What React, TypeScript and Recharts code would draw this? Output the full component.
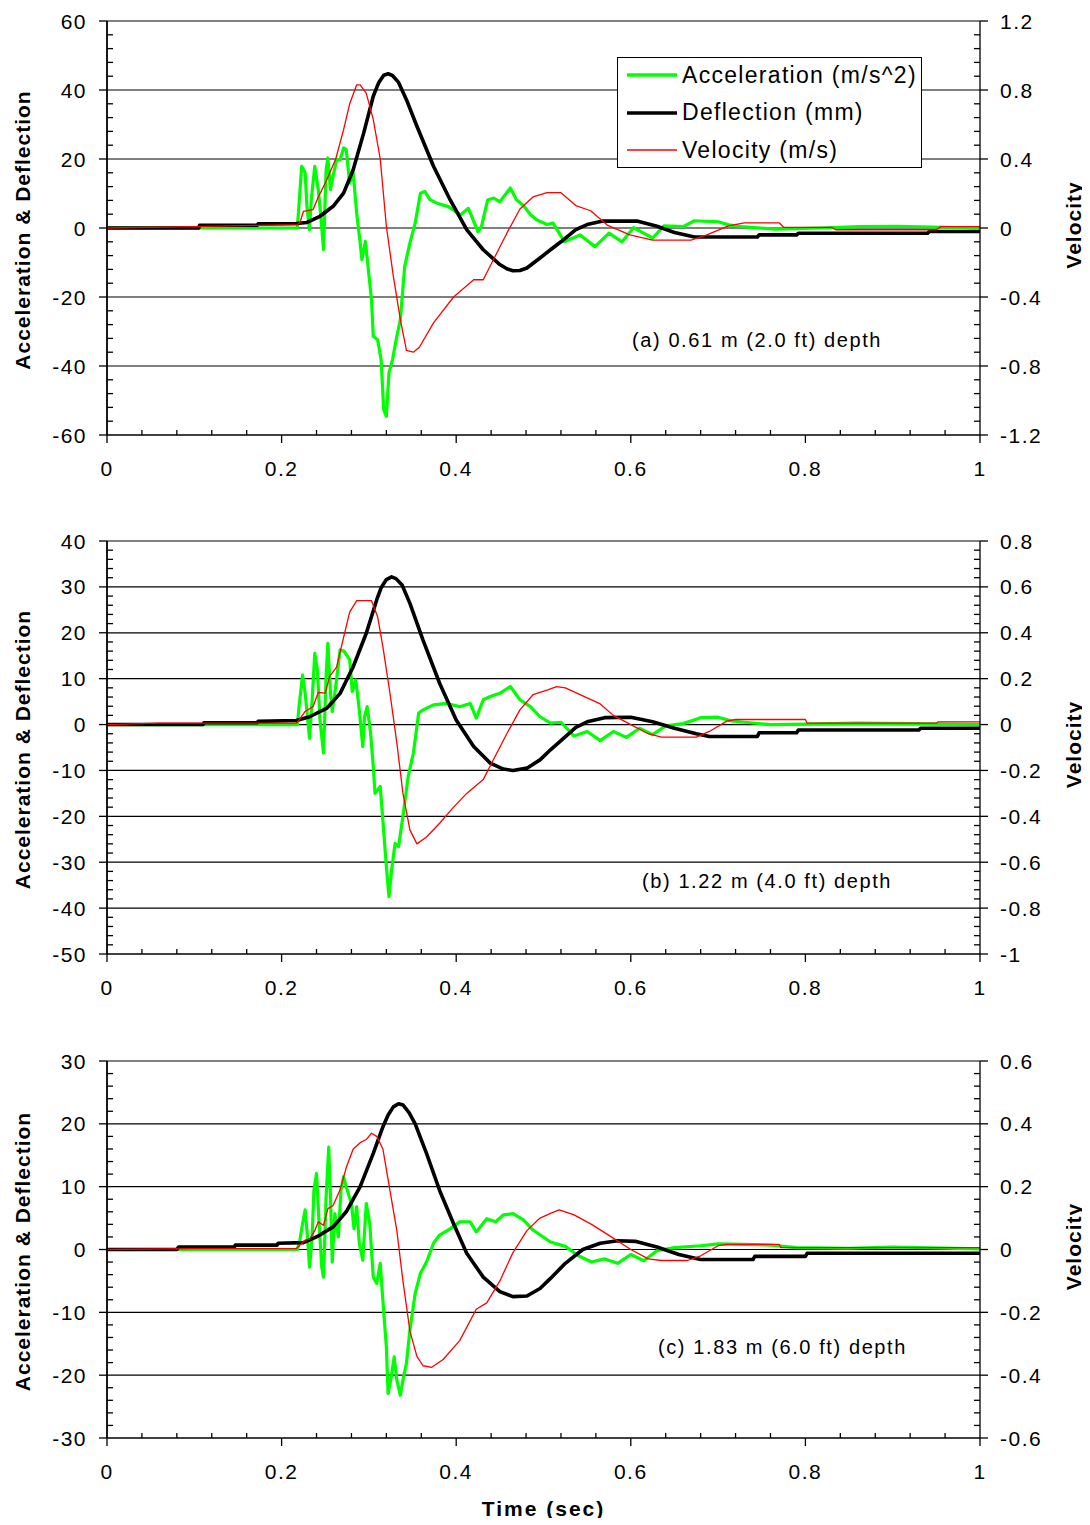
import React from 'react';
import { LineChart, Line, XAxis, YAxis, ReferenceLine, Legend } from 'recharts';

const FONT = '"Liberation Sans", Arial, Helvetica, sans-serif';

// ---------- (a) 0.61 m (2.0 ft) depth ----------
const accTimeA = [0, 0.218, 0.219, 0.223, 0.227, 0.229, 0.232, 0.234, 0.238, 0.242, 0.245, 0.248, 0.251, 0.253, 0.256, 0.259, 0.263, 0.267, 0.271, 0.274, 0.278, 0.282, 0.286, 0.29, 0.292, 0.296, 0.299, 0.303, 0.305, 0.31, 0.314, 0.317, 0.32, 0.323, 0.327, 0.332, 0.336, 0.341, 0.347, 0.353, 0.359, 0.364, 0.37, 0.378, 0.391, 0.405, 0.414, 0.425, 0.429, 0.436, 0.443, 0.45, 0.462, 0.469, 0.477, 0.485, 0.492, 0.504, 0.511, 0.524, 0.542, 0.559, 0.575, 0.59, 0.603, 0.625, 0.638, 0.66, 0.673, 0.7, 0.712, 0.73, 0.765, 0.818, 0.861, 0.905, 1];
const accA = [0, 0, 3.4, 17.9, 16, 6.3, -0.5, 8.2, 17.9, 11.1, 3.4, -6.3, 16.9, 20.3, 11.1, 15, 19.8, 19.8, 23.2, 22.7, 13, 16, 4.3, -4.3, -9.2, -3.9, -11.1, -20.8, -31.4, -32.4, -38.2, -52.7, -54.6, -42, -38.2, -31.4, -26.6, -11.1, -4.3, 1.4, 10.1, 10.6, 8.2, 7.2, 6.2, 3.8, 5.7, -1.1, 0.5, 8.1, 8.7, 7.6, 11.6, 8.2, 6.5, 3.9, 2.4, 1, 1.4, -4, -2, -5.4, -1.5, -4, 0.1, -2.9, 0.6, 0.4, 2.1, 1.8, 0.9, 0.3, -0.3, 0, 0.4, 0.5, 0];

const deflTimeA = [0, 0.105, 0.106, 0.172, 0.173, 0.217, 0.229, 0.244, 0.259, 0.271, 0.282, 0.294, 0.305, 0.311, 0.317, 0.322, 0.327, 0.334, 0.343, 0.355, 0.374, 0.393, 0.412, 0.431, 0.45, 0.458, 0.465, 0.473, 0.481, 0.496, 0.508, 0.52, 0.537, 0.55, 0.568, 0.607, 0.63, 0.65, 0.673, 0.745, 0.747, 0.79, 0.792, 0.94, 0.942, 1];
const deflA = [0, 0, 0.8, 0.8, 1.2, 1.3, 1.6, 3.4, 6.3, 10.1, 16.9, 27.5, 38.2, 42, 44.3, 44.7, 44.2, 42.2, 37.2, 29.5, 17.9, 8.2, -0.5, -6.3, -10.6, -11.8, -12.4, -12.3, -11.6, -8.7, -6.3, -4, -0.5, 1, 2, 2, 0.5, -1.3, -2.6, -2.6, -2, -2, -1.5, -1.5, -1, -1];

const velTimeA = [0, 0.07, 0.17, 0.218, 0.221, 0.225, 0.236, 0.242, 0.25, 0.262, 0.271, 0.278, 0.286, 0.29, 0.297, 0.305, 0.313, 0.32, 0.328, 0.336, 0.343, 0.351, 0.358, 0.374, 0.397, 0.42, 0.431, 0.443, 0.458, 0.473, 0.488, 0.504, 0.52, 0.537, 0.554, 0.573, 0.599, 0.625, 0.669, 0.687, 0.712, 0.73, 0.77, 0.775, 0.83, 0.835, 0.95, 0.955, 1];
const velA = [0, 0.005, 0.015, 0.02, 0.03, 0.097, 0.106, 0.18, 0.26, 0.4, 0.57, 0.72, 0.83, 0.83, 0.78, 0.63, 0.4, 0.01, -0.28, -0.53, -0.71, -0.72, -0.69, -0.55, -0.4, -0.3, -0.3, -0.18, -0.03, 0.11, 0.18, 0.205, 0.205, 0.13, 0.1, 0.017, -0.04, -0.07, -0.07, -0.04, 0.012, 0.03, 0.03, 0.004, 0.004, -0.01, -0.01, 0.008, 0.008];

// ---------- (b) 1.22 m (4.0 ft) depth ----------
const accTimeB = [0, 0.218, 0.22, 0.224, 0.227, 0.23, 0.232, 0.235, 0.238, 0.241, 0.244, 0.248, 0.251, 0.253, 0.256, 0.258, 0.262, 0.267, 0.272, 0.278, 0.281, 0.285, 0.289, 0.293, 0.295, 0.298, 0.302, 0.305, 0.307, 0.313, 0.316, 0.32, 0.323, 0.326, 0.33, 0.334, 0.339, 0.345, 0.351, 0.357, 0.362, 0.374, 0.389, 0.404, 0.416, 0.423, 0.431, 0.439, 0.45, 0.462, 0.473, 0.485, 0.496, 0.508, 0.52, 0.535, 0.55, 0.565, 0.58, 0.595, 0.61, 0.625, 0.64, 0.66, 0.68, 0.7, 0.715, 0.73, 0.76, 0.8, 0.86, 0.92, 1];
const accB = [0, 0, 3.9, 10.8, 6.8, 1, -3, 5.4, 15.5, 11.9, 1, -6.2, 10.5, 17.7, 6.8, 2.8, 8.3, 16.3, 15.9, 14.1, 7.2, 9.7, 3.2, -4.8, 1.7, 3.9, -1.9, -9.2, -15, -13.5, -20.8, -30.9, -37.5, -31.7, -25.9, -26.6, -20, -11.3, -6.2, 2.5, 3.2, 4.3, 4.6, 3.9, 4.6, 1.4, 5.4, 6.1, 6.8, 8.3, 5.4, 3.9, 1.7, 0.3, 0.5, -2.5, -1.5, -3.5, -1.5, -2.8, -0.8, -2.2, -0.3, 0.2, 1.5, 1.6, 0.8, 0.5, 0, 0.1, 0.3, 0.2, 0];

const deflTimeB = [0, 0.11, 0.111, 0.172, 0.173, 0.217, 0.232, 0.252, 0.267, 0.282, 0.297, 0.309, 0.314, 0.32, 0.326, 0.331, 0.338, 0.347, 0.362, 0.381, 0.4, 0.42, 0.439, 0.454, 0.465, 0.481, 0.496, 0.508, 0.52, 0.537, 0.55, 0.57, 0.6, 0.625, 0.65, 0.675, 0.69, 0.745, 0.747, 0.79, 0.792, 0.93, 0.932, 1];
const deflB = [0, 0, 0.4, 0.4, 0.7, 0.9, 1.7, 3.6, 6.8, 12.6, 19.9, 27.2, 29.8, 31.6, 32.2, 31.8, 30.4, 26.4, 18.4, 9, 1, -4.8, -8.4, -9.7, -10, -9.5, -7.7, -5.5, -3.5, -0.6, 0.6, 1.5, 1.6, 0.6, -0.8, -2, -2.6, -2.6, -1.8, -1.8, -1.2, -1.2, -0.8, -0.8];

const velTimeB = [0, 0.06, 0.217, 0.22, 0.227, 0.236, 0.242, 0.25, 0.255, 0.263, 0.271, 0.278, 0.286, 0.297, 0.303, 0.31, 0.316, 0.324, 0.332, 0.339, 0.347, 0.355, 0.366, 0.381, 0.397, 0.412, 0.431, 0.443, 0.458, 0.473, 0.488, 0.504, 0.515, 0.525, 0.545, 0.565, 0.58, 0.6, 0.62, 0.635, 0.675, 0.69, 0.71, 0.72, 0.8, 0.802, 0.95, 0.952, 1];
const velB = [0, 0.006, 0.006, 0.02, 0.057, 0.078, 0.14, 0.137, 0.21, 0.25, 0.38, 0.49, 0.54, 0.54, 0.54, 0.47, 0.34, 0.14, -0.08, -0.3, -0.46, -0.52, -0.49, -0.43, -0.36, -0.3, -0.24, -0.15, -0.04, 0.064, 0.13, 0.15, 0.165, 0.16, 0.125, 0.09, 0.04, 0, -0.04, -0.055, -0.055, -0.03, 0.015, 0.022, 0.022, 0.006, 0.006, 0.012, 0.012];

// ---------- (c) 1.83 m (6.0 ft) depth ----------
const accTimeC = [0, 0.218, 0.221, 0.224, 0.227, 0.23, 0.232, 0.235, 0.237, 0.24, 0.243, 0.246, 0.248, 0.251, 0.254, 0.256, 0.258, 0.261, 0.265, 0.268, 0.271, 0.274, 0.28, 0.283, 0.286, 0.289, 0.293, 0.297, 0.301, 0.305, 0.309, 0.313, 0.316, 0.32, 0.322, 0.325, 0.329, 0.332, 0.336, 0.339, 0.343, 0.347, 0.353, 0.359, 0.366, 0.374, 0.381, 0.393, 0.404, 0.416, 0.423, 0.435, 0.445, 0.454, 0.465, 0.477, 0.488, 0.508, 0.525, 0.54, 0.555, 0.57, 0.585, 0.6, 0.615, 0.63, 0.65, 0.68, 0.7, 0.73, 0.76, 0.79, 0.85, 0.9, 1];
const accC = [0, 0, 1.5, 4.1, 6.3, 1.5, -2.8, 2, 9.4, 12.1, 4.1, -2.8, -4.4, 8.4, 16.3, 8.4, -2, 5.7, 2, 9.4, 11.6, 10, 7.3, 3.3, 6.8, 1, -1.7, 7.3, 4.1, -4.4, -5.4, -2.2, -8.1, -15.5, -22.9, -20.8, -17.1, -20.8, -23.2, -20.8, -18.1, -12.8, -7, -3.8, -2, 1, 2.3, 3.3, 4.4, 4.4, 2.8, 4.9, 4.4, 5.5, 5.7, 4.7, 3.1, 1.2, 0.5, -1, -2, -1.5, -2.2, -0.8, -1.8, -0.2, 0.3, 0.6, 0.9, 0.8, 0.7, 0.3, 0.2, 0.4, 0.1];

const deflTimeC = [0, 0.08, 0.082, 0.146, 0.147, 0.195, 0.196, 0.225, 0.24, 0.259, 0.274, 0.29, 0.305, 0.316, 0.322, 0.328, 0.334, 0.339, 0.346, 0.353, 0.366, 0.381, 0.397, 0.412, 0.431, 0.45, 0.465, 0.481, 0.496, 0.508, 0.525, 0.545, 0.565, 0.585, 0.605, 0.63, 0.655, 0.68, 0.74, 0.742, 0.8, 0.802, 1];
const deflC = [0, 0, 0.4, 0.4, 0.7, 0.7, 1, 1.1, 2, 3.6, 6, 10, 15.3, 19.5, 21.4, 22.7, 23.2, 23, 21.8, 20, 15.3, 9.4, 4.1, -0.6, -4.4, -6.7, -7.5, -7.4, -6.2, -4.6, -2.2, 0, 1, 1.4, 1.3, 0.4, -0.8, -1.6, -1.6, -1.1, -1.1, -0.6, -0.6];

const velTimeC = [0, 0.1, 0.217, 0.221, 0.227, 0.232, 0.238, 0.242, 0.248, 0.253, 0.259, 0.267, 0.274, 0.282, 0.29, 0.297, 0.303, 0.309, 0.316, 0.324, 0.332, 0.339, 0.347, 0.355, 0.362, 0.372, 0.385, 0.404, 0.423, 0.435, 0.45, 0.465, 0.481, 0.496, 0.508, 0.518, 0.535, 0.555, 0.575, 0.6, 0.62, 0.635, 0.665, 0.68, 0.7, 0.71, 0.77, 0.772, 1];
const velC = [0, 0.003, 0.003, 0.014, 0.03, 0.032, 0.06, 0.088, 0.077, 0.13, 0.14, 0.19, 0.26, 0.32, 0.34, 0.35, 0.37, 0.36, 0.32, 0.19, 0.06, -0.1, -0.26, -0.34, -0.37, -0.375, -0.35, -0.29, -0.19, -0.17, -0.1, -0.01, 0.06, 0.1, 0.115, 0.126, 0.11, 0.08, 0.045, 0, -0.03, -0.035, -0.035, -0.02, 0.012, 0.016, 0.016, 0.006, 0.006];

// Axis setup per panel: [min, max, major step, minor step]
const leftAxisA = [-60, 60, 20, 4];
const rightAxisA = [-1.2, 1.2, 0.4, 0.08];
const leftAxisB = [-50, 40, 10, 2];
const rightAxisB = [-1, 0.8, 0.2, 0.04];
const leftAxisC = [-30, 30, 10, 2];
const rightAxisC = [-0.6, 0.6, 0.2, 0.04];
const timeAxis = [0, 1, 0.2, 0.04];

const captions = ['(a) 0.61 m (2.0 ft) depth', '(b) 1.22 m (4.0 ft) depth', '(c) 1.83 m (6.0 ft) depth'];
const seriesNames = ['Acceleration (m/s^2)', 'Deflection (mm)', 'Velocity (m/s)'];

const ACC_COLOR = '#00ff00';
const DEFL_COLOR = '#000000';
const VEL_COLOR = '#ff0000';

type Pt = { t: number; v: number };
const zip = (ts: number[], vs: number[]): Pt[] => ts.map((t, i) => ({ t, v: vs[i] }));

const tickList = (min: number, max: number, step: number) => {
  const n = Math.round((max - min) / step);
  return Array.from({ length: n + 1 }, (_, i) => +(min + i * step).toFixed(6));
};
const isMajor = (v: number, major: number) => Math.abs(v / major - Math.round(v / major)) < 1e-6;
const fmt = (v: number) => String(+v.toFixed(2));

const TICK_FONT = { fontFamily: FONT, fontSize: 21, letterSpacing: 1.5, fill: '#000' };
const TICK_STROKE = { stroke: '#000', strokeWidth: 1.3 };

const makeLeftTick = (major: number) => (p: any) => {
  const { x, y, payload } = p;
  const v = payload.value;
  if (isMajor(v, major)) {
    return (
      <g>
        <line x1={x - 8} x2={x} y1={y} y2={y} {...TICK_STROKE} />
        <text x={x - 20} y={y} textAnchor="end" dominantBaseline="central" {...TICK_FONT}>{fmt(v)}</text>
      </g>
    );
  }
  return <line x1={x} x2={x + 6} y1={y} y2={y} {...TICK_STROKE} />;
};

const makeRightTick = (major: number) => (p: any) => {
  const { x, y, payload } = p;
  const v = payload.value;
  if (isMajor(v, major)) {
    return (
      <g>
        <line x1={x} x2={x + 8} y1={y} y2={y} {...TICK_STROKE} />
        <text x={x + 20} y={y} textAnchor="start" dominantBaseline="central" {...TICK_FONT}>{fmt(v)}</text>
      </g>
    );
  }
  return <line x1={x - 6} x2={x} y1={y} y2={y} {...TICK_STROKE} />;
};

const bottomTick = (p: any) => {
  const { x, y, payload } = p;
  const v = payload.value;
  if (isMajor(v, timeAxis[2])) {
    return (
      <g>
        <line x1={x} x2={x} y1={y} y2={y + 8} {...TICK_STROKE} />
        <text x={x} y={y + 33} textAnchor="middle" dominantBaseline="central" {...TICK_FONT}>{fmt(v)}</text>
      </g>
    );
  }
  return <line x1={x} x2={x} y1={y - 5} y2={y} {...TICK_STROKE} />;
};

const TITLE_FONT = { fontFamily: FONT, fontSize: 21, fontWeight: 700, letterSpacing: 1, fill: '#000' };

const leftTitle = (p: any) => {
  const vb = p.viewBox;
  const cx = vb.x + 14;
  const cy = vb.y + vb.height / 2 + 2;
  return (
    <text x={cx} y={cy} transform={`rotate(-90, ${cx}, ${cy})`} textAnchor="middle" dominantBaseline="central" {...TITLE_FONT}>
      Acceleration &amp; Deflection
    </text>
  );
};

const rightTitle = (p: any) => {
  const vb = p.viewBox;
  const cx = vb.x + 93;
  const cy = vb.y + vb.height / 2 - 3;
  return (
    <text x={cx} y={cy} transform={`rotate(-90, ${cx}, ${cy})`} textAnchor="middle" dominantBaseline="central" {...TITLE_FONT}>
      Velocity
    </text>
  );
};

const timeTitle = (p: any) => {
  const vb = p.viewBox;
  return (
    <text x={vb.x + vb.width / 2} y={vb.y + 70} textAnchor="middle" dominantBaseline="central" {...TITLE_FONT} letterSpacing={2}>
      Time (sec)
    </text>
  );
};

const legendStyles = [
  { color: ACC_COLOR, width: 3.5 },
  { color: DEFL_COLOR, width: 3.5 },
  { color: VEL_COLOR, width: 1.3 },
];

const LegendBox = () => (
  <div
    style={{
      width: 305,
      height: 111,
      boxSizing: 'border-box',
      border: '1.5px solid #000',
      background: '#fff',
      position: 'relative',
      fontFamily: FONT,
      fontSize: 23,
      letterSpacing: 1.3,
      color: '#000',
    }}
  >
    {seriesNames.map((name, i) => (
      <div
        key={name}
        style={{ position: 'absolute', left: 9, top: 17 + i * 37.5 - 15, height: 30, display: 'flex', alignItems: 'center', whiteSpace: 'nowrap' }}
      >
        <svg width={50} height={8} style={{ display: 'block' }}>
          <line x1={0} x2={50} y1={4} y2={4} stroke={legendStyles[i].color} strokeWidth={legendStyles[i].width} />
        </svg>
        <span style={{ marginLeft: 5 }}>{name}</span>
      </div>
    ))}
  </div>
);

type PanelProps = {
  top: number;
  plotHeight: number;
  xAxisHeight: number;
  left: number[];
  right: number[];
  acc: Pt[];
  defl: Pt[];
  vel: Pt[];
  showLegend?: boolean;
  showTime?: boolean;
};

const CHART_WIDTH = 1082;
const MARGIN_TOP = 13;

const Panel = ({ top, plotHeight, xAxisHeight, left, right, acc, defl, vel, showLegend, showTime }: PanelProps) => {
  const [lMin, lMax, lMajor, lMinor] = left;
  const [rMin, rMax, rMajor, rMinor] = right;
  const leftTicks = tickList(lMin, lMax, lMinor);
  const rightTicks = tickList(rMin, rMax, rMinor);
  const xTicks = tickList(timeAxis[0], timeAxis[1], timeAxis[3]);
  const gridValues = tickList(lMin, lMax, lMajor).filter((v) => v !== lMin);
  const height = MARGIN_TOP + plotHeight + xAxisHeight;
  return (
    <div style={{ position: 'absolute', left: 0, top }}>
      <LineChart width={CHART_WIDTH} height={height} margin={{ top: MARGIN_TOP, right: 0, bottom: 0, left: 0 }}>
        <XAxis
          xAxisId="t"
          type="number"
          dataKey="t"
          domain={[timeAxis[0], timeAxis[1]]}
          ticks={xTicks}
          interval={0}
          height={xAxisHeight}
          tickSize={0}
          tickMargin={0}
          tickLine={false}
          tick={bottomTick}
          axisLine={{ stroke: '#000', strokeWidth: 1.5 }}
          label={showTime ? { content: timeTitle } : undefined}
        />
        <YAxis
          yAxisId="left"
          orientation="left"
          width={99}
          domain={[lMin, lMax]}
          ticks={leftTicks}
          interval={0}
          tickSize={0}
          tickMargin={0}
          tickLine={false}
          tick={makeLeftTick(lMajor)}
          axisLine={{ stroke: '#000', strokeWidth: 1.8 }}
          label={{ content: leftTitle }}
        />
        <YAxis
          yAxisId="right"
          orientation="right"
          width={110}
          domain={[rMin, rMax]}
          ticks={rightTicks}
          interval={0}
          tickSize={0}
          tickMargin={0}
          tickLine={false}
          tick={makeRightTick(rMajor)}
          axisLine={{ stroke: '#000', strokeWidth: 1.3 }}
          label={{ content: rightTitle }}
        />
        {gridValues.map((v) => (
          <ReferenceLine key={v} xAxisId="t" yAxisId="left" y={v} stroke="#000" strokeWidth={1.2} />
        ))}
        <Line
          xAxisId="t"
          yAxisId="left"
          data={acc}
          dataKey="v"
          name={seriesNames[0]}
          type="linear"
          dot={false}
          stroke={ACC_COLOR}
          strokeWidth={3.2}
          strokeLinejoin="round"
          isAnimationActive={false}
        />
        <Line
          xAxisId="t"
          yAxisId="left"
          data={defl}
          dataKey="v"
          name={seriesNames[1]}
          type="linear"
          dot={false}
          stroke={DEFL_COLOR}
          strokeWidth={3.6}
          strokeLinejoin="round"
          isAnimationActive={false}
        />
        <Line
          xAxisId="t"
          yAxisId="right"
          data={vel}
          dataKey="v"
          name={seriesNames[2]}
          type="linear"
          dot={false}
          stroke={VEL_COLOR}
          strokeWidth={1.3}
          strokeLinejoin="round"
          isAnimationActive={false}
        />
        {showLegend && (
          <Legend
            layout="vertical"
            align="center"
            verticalAlign="middle"
            content={() => <LegendBox />}
            wrapperStyle={{ left: 609, top: 49, width: 305, height: 111 }}
          />
        )}
      </LineChart>
    </div>
  );
};

const CAPTION_STYLE: React.CSSProperties = {
  position: 'absolute',
  fontFamily: FONT,
  fontSize: 20,
  letterSpacing: 1.6,
  lineHeight: '24px',
  whiteSpace: 'nowrap',
  color: '#000',
};

export default function App() {
  return (
    <div style={{ position: 'relative', width: CHART_WIDTH, height: 1510, background: '#fff' }}>
      <Panel
        top={0}
        plotHeight={414}
        xAxisHeight={60}
        left={leftAxisA}
        right={rightAxisA}
        acc={zip(accTimeA, accA)}
        defl={zip(deflTimeA, deflA)}
        vel={zip(velTimeA, velA)}
        showLegend
      />
      <Panel
        top={520}
        plotHeight={413}
        xAxisHeight={60}
        left={leftAxisB}
        right={rightAxisB}
        acc={zip(accTimeB, accB)}
        defl={zip(deflTimeB, deflB)}
        vel={zip(velTimeB, velB)}
      />
      <Panel
        top={1040}
        plotHeight={377}
        xAxisHeight={90}
        left={leftAxisC}
        right={rightAxisC}
        acc={zip(accTimeC, accC)}
        defl={zip(deflTimeC, deflC)}
        vel={zip(velTimeC, velC)}
        showTime
      />
      <div style={{ ...CAPTION_STYLE, left: 624, top: 320 }}>{captions[0]}</div>
      <div style={{ ...CAPTION_STYLE, left: 634, top: 861 }}>{captions[1]}</div>
      <div style={{ ...CAPTION_STYLE, left: 650, top: 1327 }}>{captions[2]}</div>
    </div>
  );
}
